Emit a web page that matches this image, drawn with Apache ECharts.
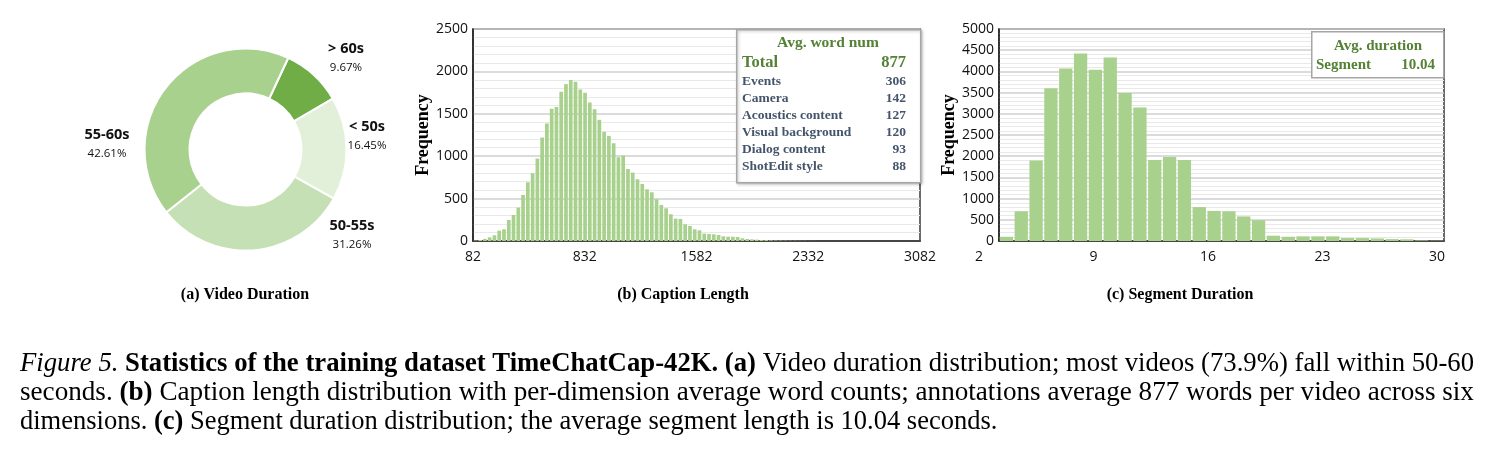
<!DOCTYPE html>
<html>
<head>
<meta charset="utf-8">
<script src="https://cdn.jsdelivr.net/npm/echarts@6/dist/echarts.min.js"></script>
<style>
  html, body { margin: 0; padding: 0; background: #fff; }
  #chart { width: 1491px; height: 456px; }
</style>
</head>
<body>
<div id="chart"></div>
<script>
// (a) video duration shares, clockwise from the top
const durationNames = ['> 60s', '< 50s', '50-55s', '55-60s']
const durationShares = [9.67, 16.45, 31.26, 42.61]

// (b) caption length histogram, bins of ~32 words from 82
const captionStart = 82
const captionBinWidth = 32
const captionFreq = [5, 12, 25, 43, 67, 122, 138, 248, 307, 394, 543, 693, 800, 972, 1220, 1386,
  1559, 1579, 1760, 1850, 1898, 1878, 1787, 1748, 1634, 1555, 1429, 1287, 1240, 1153, 988, 1008,
  850, 807, 728, 673, 610, 575, 492, 425, 386, 315, 264, 260, 197, 177, 138, 126, 87, 83, 79, 71,
  55, 51, 50, 47, 32, 24, 20, 16, 12, 12, 8, 6, 5, 4, 3, 3, 2, 2, 1, 1]
const captionTicks = [82, 832, 1582, 2332, 3082]

// per-dimension average word counts (box in b)
const wordDims = ['Events', 'Camera', 'Acoustics content', 'Visual background', 'Dialog content', 'ShotEdit style']
const wordNums = [306, 142, 127, 120, 93, 88]
const wordTotal = 877

// (c) segment duration histogram, 30 bins
const segmentFreq = [100, 700, 1900, 3600, 4070, 4420, 4040, 4330, 3490, 3150, 1910, 1980, 1910,
  800, 710, 700, 580, 490, 125, 100, 110, 110, 110, 70, 70, 60, 45, 40, 15, 8]
const segmentTicks = [2, 9, 16, 23, 30]
const segmentAvg = 10.04

const serif = '"Liberation Serif", "Times New Roman", serif'
const sans = '"Open Sans", "Liberation Sans", sans-serif'
const barColor = '#a9d18e'
const green = '#548235'
const slate = '#44546a'

const chart = echarts.init(document.getElementById('chart'))

// pie label centres, one per slice
const pieLabelPos = [[346, 58], [367, 136], [352, 235], [107, 144]]

const gridTop = 29
const gridHeight = 212

const yAxisBase = (max, gridIndex, gap) => ({
  type: 'value',
  gridIndex,
  min: 0,
  max,
  interval: 500,
  name: 'Frequency',
  nameLocation: 'middle',
  nameRotate: 90,
  nameGap: gap,
  nameTextStyle: { fontFamily: serif, fontWeight: 'bold', fontSize: 18, color: '#000' },
  axisLine: { show: true, lineStyle: { color: '#222', width: 1.5 } },
  axisTick: { show: false },
  axisLabel: { fontFamily: sans, fontSize: 14, color: '#111', margin: 5, formatter: v => String(v) },
  splitLine: { show: true, lineStyle: { color: '#cfcfcf', width: 1.5 } },
  minorTick: { show: false, splitNumber: 5 },
  minorSplitLine: { show: true, lineStyle: { color: '#e9e9e9', width: 1 } }
})

// caption lines are justified in the original, so stretch them a little
const caption = (text, y, rich, stretch) => ({
  type: 'text', x: 20, y, scaleX: stretch,
  style: {
    text, fontFamily: serif, fontSize: 26.5, fill: '#000', verticalAlign: 'middle',
    rich
  }
})
const capBold = { fontWeight: 'bold', fontFamily: serif, fontSize: 26.5 }
const capItalic = { fontStyle: 'italic', fontFamily: serif, fontSize: 26.5 }

const option = {
  animation: false,
  backgroundColor: '#fff',
  grid: [
    // b
    { left: 473, right: 1491 - 920, top: gridTop, height: gridHeight, show: true, borderColor: '#3a3a3a', borderWidth: 1.5 },
    // c
    { left: 999, right: 1491 - 1444, top: gridTop, height: gridHeight, show: true, borderColor: '#3a3a3a', borderWidth: 1.5 },
    // c tick labels (offset like the original)
    { left: 979, right: 1491 - 1437, top: gridTop, height: gridHeight, show: false }
  ],
  xAxis: [
    {
      type: 'value', gridIndex: 0, min: 0, max: 3000, interval: 750,
      axisLine: { show: true, lineStyle: { color: '#222', width: 1.5 } },
      axisTick: { show: false },
      splitLine: { show: false },
      axisLabel: {
        fontFamily: sans, fontSize: 14, color: '#111', margin: 9,
        formatter: v => String(captionTicks[Math.round(v / 750)])
      }
    },
    {
      type: 'value', gridIndex: 1, min: 0, max: 30,
      axisLine: { show: true, lineStyle: { color: '#222', width: 1.5 } },
      axisTick: { show: false },
      splitLine: { show: false },
      axisLabel: { show: false }
    },
    {
      type: 'value', gridIndex: 2, min: 0, max: 28, interval: 7,
      axisLine: { show: false },
      axisTick: { show: false },
      splitLine: { show: false },
      axisLabel: {
        fontFamily: sans, fontSize: 14, color: '#111', margin: 9,
        formatter: v => String(segmentTicks[Math.round(v / 7)])
      }
    }
  ],
  yAxis: [
    yAxisBase(2500, 0, 36),
    yAxisBase(5000, 1, 37),
    { type: 'value', gridIndex: 2, show: false, min: 0, max: 1 }
  ],
  series: [
    {
      type: 'pie',
      center: [245.5, 149.5],
      radius: [56, 101],
      startAngle: 65,
      clockwise: true,
      itemStyle: { borderColor: '#fff', borderWidth: 2 },
      color: ['#70ad47', '#e2f0d9', '#c5e0b4', '#a9d18e'],
      label: {
        show: true,
        position: 'outside',
        formatter: '{n|{b}}\n{p|{c}%}',
        color: '#111',
        align: 'center',
        rich: {
          n: { fontFamily: sans, fontWeight: 'bold', fontSize: 14.5, lineHeight: 19, color: '#111', align: 'center' },
          p: { fontFamily: sans, fontSize: 11.5, lineHeight: 18, color: '#111', align: 'center' }
        }
      },
      labelLine: { show: false },
      labelLayout: params => ({
        x: pieLabelPos[params.dataIndex][0],
        y: pieLabelPos[params.dataIndex][1],
        align: 'center',
        verticalAlign: 'middle'
      }),
      data: durationNames.map((n, i) => ({ name: n, value: durationShares[i] }))
    },
    {
      type: 'bar',
      xAxisIndex: 0,
      yAxisIndex: 0,
      barWidth: 3.7,
      itemStyle: { color: barColor },
      data: captionFreq.map((v, i) => [(i + 0.5) * captionBinWidth, v])
    },
    {
      type: 'bar',
      xAxisIndex: 1,
      yAxisIndex: 1,
      barWidth: 13.3,
      itemStyle: { color: barColor },
      data: segmentFreq.map((v, i) => [i + 0.5, v])
    }
  ],
  graphic: [
    // word count box
    {
      type: 'rect', left: 736, top: 29, z: 10,
      shape: { width: 184, height: 153 },
      style: { fill: '#fff', stroke: '#a6a6a6', lineWidth: 1.5, shadowBlur: 3, shadowColor: 'rgba(0,0,0,0.25)', shadowOffsetX: 1, shadowOffsetY: 1 }
    },
    {
      type: 'text', x: 828, y: 43, z: 11,
      style: { text: 'Avg. word num', fontFamily: serif, fontWeight: 'bold', fontSize: 15.5, fill: green, align: 'center', verticalAlign: 'middle' }
    },
    {
      type: 'text', x: 742, y: 63, z: 11,
      style: { text: 'Total', fontFamily: serif, fontWeight: 'bold', fontSize: 16.5, fill: green, align: 'left', verticalAlign: 'middle' }
    },
    {
      type: 'text', x: 906, y: 63, z: 11,
      style: { text: String(wordTotal), fontFamily: serif, fontWeight: 'bold', fontSize: 16.5, fill: green, align: 'right', verticalAlign: 'middle' }
    },
    ...wordDims.map((d, i) => ({
      type: 'text', x: 742, y: 82 + i * 17, z: 11,
      style: { text: d, fontFamily: serif, fontWeight: 'bold', fontSize: 13.5, fill: slate, align: 'left', verticalAlign: 'middle' }
    })),
    ...wordNums.map((n, i) => ({
      type: 'text', x: 906, y: 82 + i * 17, z: 11,
      style: { text: String(n), fontFamily: serif, fontWeight: 'bold', fontSize: 13.5, fill: slate, align: 'right', verticalAlign: 'middle' }
    })),
    // segment average box
    {
      type: 'rect', left: 1311, top: 31, z: 10,
      shape: { width: 132, height: 46 },
      style: { fill: '#fff', stroke: '#a6a6a6', lineWidth: 1.5 }
    },
    {
      type: 'text', x: 1378, y: 46, z: 11,
      style: { text: 'Avg. duration', fontFamily: serif, fontWeight: 'bold', fontSize: 15, fill: green, align: 'center', verticalAlign: 'middle' }
    },
    {
      type: 'text', x: 1316, y: 65, z: 11,
      style: { text: 'Segment', fontFamily: serif, fontWeight: 'bold', fontSize: 15, fill: green, align: 'left', verticalAlign: 'middle' }
    },
    {
      type: 'text', x: 1435, y: 65, z: 11,
      style: { text: segmentAvg.toFixed(2), fontFamily: serif, fontWeight: 'bold', fontSize: 15, fill: green, align: 'right', verticalAlign: 'middle' }
    },
    // sub-figure titles
    {
      type: 'text', x: 245, y: 295,
      style: { text: '(a) Video Duration', fontFamily: serif, fontWeight: 'bold', fontSize: 16, fill: '#000', align: 'center', verticalAlign: 'middle' }
    },
    {
      type: 'text', x: 683, y: 295,
      style: { text: '(b) Caption Length', fontFamily: serif, fontWeight: 'bold', fontSize: 16, fill: '#000', align: 'center', verticalAlign: 'middle' }
    },
    {
      type: 'text', x: 1180, y: 295,
      style: { text: '(c) Segment Duration', fontFamily: serif, fontWeight: 'bold', fontSize: 16, fill: '#000', align: 'center', verticalAlign: 'middle' }
    },
    // figure caption
    caption('{i|Figure 5.} {b|Statistics of the training dataset TimeChatCap-42K. (a)} Video duration distribution; most videos (73.9%) fall within 50-60',
      364, { i: capItalic, b: capBold }, 1.008),
    caption('seconds. {b|(b)} Caption length distribution with per-dimension average word counts; annotations average 877 words per video across six',
      393, { b: capBold }, 1.024),
    caption('dimensions. {b|(c)} Segment duration distribution; the average segment length is 10.04 seconds.',
      422, { b: capBold }, 1)
  ]
}

chart.setOption(option)
</script>
</body>
</html>
